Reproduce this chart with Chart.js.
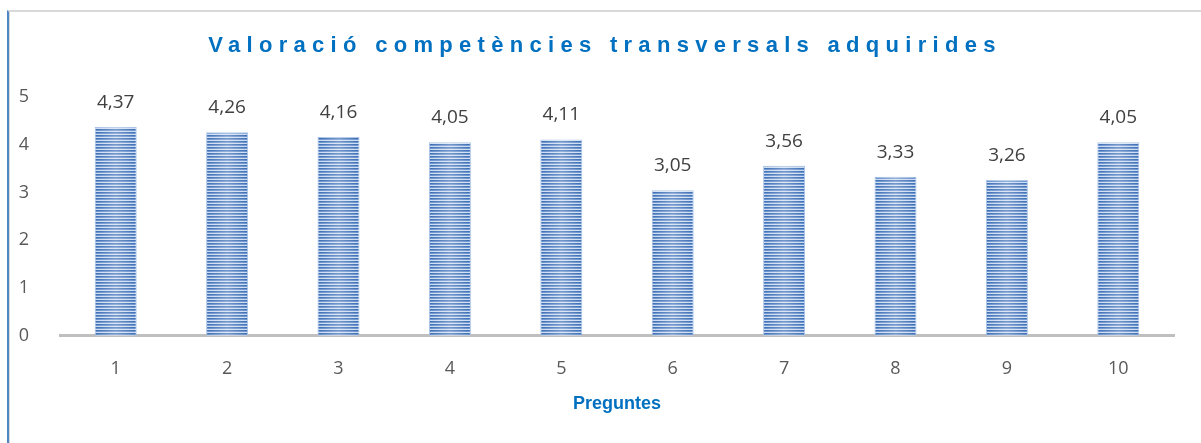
<!DOCTYPE html>
<html>
<head>
<meta charset="utf-8">
<script src="https://cdn.jsdelivr.net/npm/chart.js@4/dist/chart.umd.min.js"></script>
<style>
    html, body { margin: 0; padding: 0; background: #fff; }
    #wrap { position: relative; width: 1201px; height: 443px; overflow: hidden; }
    #frame {
        position: absolute; left: 7px; top: 10px; right: 0; bottom: -5px;
        border-top: 2px solid #d9d9d9;
        border-left: 2px solid #4f86c6;
        box-shadow: inset 1px 0 0 #d9d9d9;
    }
    #chart-1 { position: absolute; left: 0; top: 0; }
    #titol {
        position: absolute; left: 0; width: 1210px; top: 31px;
        text-align: center;
        font-family: Arial, "Liberation Sans", sans-serif;
        font-weight: bold; font-size: 22px; line-height: 28px;
        letter-spacing: 6.3px;
        color: #0070c0;
        white-space: nowrap;
    }
</style>
</head>
<body>
<div id="wrap">
    <div id="frame"></div>
    <canvas id="chart-1" width="1201" height="443"></canvas>
    <div id="titol"></div>
</div>
<script>
// valoracio de les preguntes
var preguntes = ["1", "2", "3", "4", "5", "6", "7", "8", "9", "10"];
var valoracio = [4.37, 4.26, 4.16, 4.05, 4.11, 3.05, 3.56, 3.33, 3.26, 4.05];
var titol = "Valoració competències transversals adquirides";
var titolEix = "Preguntes";

document.getElementById("titol").textContent = titol;

// patro de ratlles horitzontals
function crearPatro(ctx) {
    var c = document.createElement("canvas");
    c.width = 4;
    c.height = 3;
    var p = c.getContext("2d");
    p.fillStyle = "#3a6db5";
    p.fillRect(0, 0, 4, 1);
    p.fillStyle = "#6890cc";
    p.fillRect(0, 1, 4, 1);
    p.fillStyle = "#cddcf0";
    p.fillRect(0, 2, 4, 1);
    return ctx.createPattern(c, "repeat");
}

// brillantor + etiquetes de valor
var pluginExtra = {
    id: "extra",
    afterDatasetsDraw: function (chart) {
        var ctx = chart.ctx;
        var meta = chart.getDatasetMeta(0);
        meta.data.forEach(function (bar, i) {
            var left = bar.x - bar.width / 2;
            var g = ctx.createLinearGradient(left, 0, left + bar.width, 0);
            g.addColorStop(0, "rgba(255,255,255,0)");
            g.addColorStop(0.5, "rgba(255,255,255,0.3)");
            g.addColorStop(1, "rgba(255,255,255,0)");
            ctx.save();
            ctx.fillStyle = g;
            ctx.fillRect(left, bar.y, bar.width, bar.base - bar.y);
            ctx.restore();

            ctx.save();
            ctx.font = "19px 'Open Sans'";
            ctx.fillStyle = "#404040";
            ctx.textAlign = "center";
            ctx.textBaseline = "bottom";
            ctx.fillText(valoracio[i].toFixed(2).replace(".", ","), bar.x, bar.y - 15);
            ctx.restore();
        });
    }
};

var ctx = document.getElementById("chart-1").getContext("2d");
var chart_valoracio = new Chart(ctx, {
    type: "bar",
    data: {
        labels: preguntes,
        datasets: [
            {
                label: "Valoració",
                data: valoracio,
                backgroundColor: crearPatro(ctx),
                borderColor: "#a9c3e6",
                borderWidth: 1,
                barPercentage: 0.377,
                categoryPercentage: 1
            }
        ]
    },
    options: {
        responsive: false,
        animation: false,
        layout: {
            padding: { top: 97, right: 27, bottom: 28, left: 0 }
        },
        scales: {
            x: {
                grid: { display: false },
                border: { display: true, color: "#bfbfbf", width: 3 },
                ticks: {
                    color: "#595959",
                    font: { family: "'Open Sans'", size: 18 },
                    padding: 14
                },
                title: {
                    display: true,
                    text: titolEix,
                    color: "#0070c0",
                    font: { family: "Arial", size: 18, weight: "bold" },
                    padding: { top: 0, bottom: 0 }
                }
            },
            y: {
                min: 0,
                max: 5,
                grid: { display: false },
                border: { display: false },
                ticks: {
                    stepSize: 1,
                    color: "#595959",
                    font: { family: "'Open Sans'", size: 18 },
                    padding: 23
                },
                afterFit: function (scale) {
                    scale.width = 60;
                }
            }
        },
        plugins: {
            legend: { display: false },
            tooltip: { enabled: false }
        }
    },
    plugins: [pluginExtra]
});
</script>
</body>
</html>
